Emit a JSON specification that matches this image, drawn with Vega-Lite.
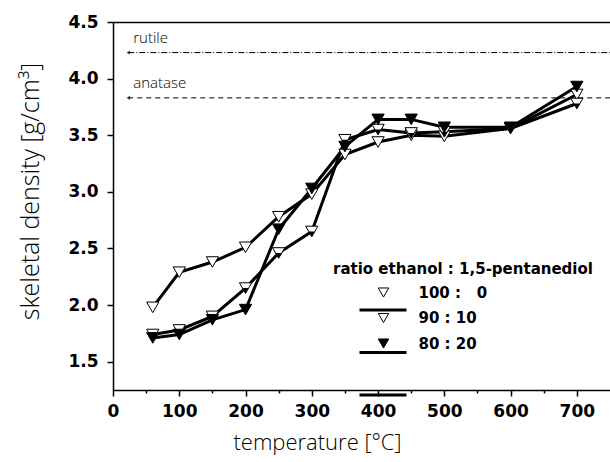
{
  "$schema": "https://vega.github.io/schema/vega-lite/v6.json",
  "autosize": {"type": "none"},
  "padding": {"left": 113, "top": 22, "right": 0, "bottom": 72},
  "width": 497,
  "height": 368,
  "background": "white",
  "config": {
    "view": {"stroke": null},
    "axis": {"grid": false, "domainColor": "black", "domainWidth": 1.5, "tickColor": "black", "tickWidth": 1.5, "labelColor": "black", "titleColor": "black"}
  },
  "datasets": {
    "density": [
      {"series": "100:0", "temperature": 60, "density": 1.98},
      {"series": "100:0", "temperature": 100, "density": 2.29},
      {"series": "100:0", "temperature": 150, "density": 2.38},
      {"series": "100:0", "temperature": 200, "density": 2.51},
      {"series": "100:0", "temperature": 250, "density": 2.78},
      {"series": "100:0", "temperature": 300, "density": 2.98},
      {"series": "100:0", "temperature": 350, "density": 3.33},
      {"series": "100:0", "temperature": 400, "density": 3.44},
      {"series": "100:0", "temperature": 450, "density": 3.50},
      {"series": "100:0", "temperature": 500, "density": 3.49},
      {"series": "100:0", "temperature": 600, "density": 3.56},
      {"series": "100:0", "temperature": 700, "density": 3.86},
      {"series": "90:10", "temperature": 60, "density": 1.74},
      {"series": "90:10", "temperature": 100, "density": 1.78},
      {"series": "90:10", "temperature": 150, "density": 1.90},
      {"series": "90:10", "temperature": 200, "density": 2.15},
      {"series": "90:10", "temperature": 250, "density": 2.46},
      {"series": "90:10", "temperature": 300, "density": 2.65},
      {"series": "90:10", "temperature": 350, "density": 3.46},
      {"series": "90:10", "temperature": 400, "density": 3.55},
      {"series": "90:10", "temperature": 450, "density": 3.52},
      {"series": "90:10", "temperature": 500, "density": 3.53},
      {"series": "90:10", "temperature": 600, "density": 3.56},
      {"series": "90:10", "temperature": 700, "density": 3.78},
      {"series": "80:20", "temperature": 60, "density": 1.71},
      {"series": "80:20", "temperature": 100, "density": 1.74},
      {"series": "80:20", "temperature": 150, "density": 1.87},
      {"series": "80:20", "temperature": 200, "density": 1.96},
      {"series": "80:20", "temperature": 250, "density": 2.67},
      {"series": "80:20", "temperature": 300, "density": 3.03},
      {"series": "80:20", "temperature": 350, "density": 3.40},
      {"series": "80:20", "temperature": 400, "density": 3.64},
      {"series": "80:20", "temperature": 450, "density": 3.64},
      {"series": "80:20", "temperature": 500, "density": 3.57},
      {"series": "80:20", "temperature": 600, "density": 3.57},
      {"series": "80:20", "temperature": 700, "density": 3.93}
    ],
    "phases": [
      {"phase": "rutile", "density": 4.23, "start": 23, "end": 750},
      {"phase": "anatase", "density": 3.83, "start": 23, "end": 750}
    ]
  },
  "resolve": {"axis": {"x": "independent"}},
  "layer": [
    {
      "data": {"name": "density"},
      "mark": {"type": "line", "strokeWidth": 3},
      "encoding": {
        "x": {
          "field": "temperature", "type": "quantitative",
          "scale": {"domain": [0, 750], "nice": false, "zero": false},
          "axis": {
            "orient": "bottom",
            "values": [0, 50, 100, 150, 200, 250, 300, 350, 400, 450, 500, 550, 600, 650, 700],
            "labelExpr": "datum.value % 100 === 0 ? datum.label : ''",
            "labelOverlap": false, "labelFlush": false,
            "tickSize": {"condition": {"test": "datum.value % 100 === 0", "value": 6}, "value": 3},
            "labelFont": "DejaVu Sans", "labelFontWeight": "bold", "labelFontSize": 17, "labelPadding": 7,
            "title": "temperature [°C]", "titleFont": "Open Sans", "titleFontWeight": 300, "titleFontSize": 22, "titleColor": "black",
            "titleX": 204, "titleY": 59, "titleBaseline": "alphabetic", "titleAlign": "center"
          }
        },
        "y": {
          "field": "density", "type": "quantitative",
          "scale": {"domain": [1.25, 4.5], "nice": false, "zero": false},
          "axis": {
            "values": [1.5, 1.75, 2, 2.25, 2.5, 2.75, 3, 3.25, 3.5, 3.75, 4, 4.25, 4.5],
            "labelExpr": "round(datum.value * 100) % 50 === 0 ? format(datum.value, '.1f') : ''",
            "labelOverlap": false, "labelFlush": false,
            "tickSize": {"condition": {"test": "round(datum.value * 100) % 50 === 0", "value": 6}, "value": 3},
            "labelFont": "DejaVu Sans", "labelFontWeight": "bold", "labelFontSize": 17, "labelPadding": 9,
            "title": "skeletal density [g/cm³]", "titleFont": "Open Sans", "titleFontWeight": 300, "titleFontSize": 25, "titleColor": "black",
            "titleX": -83, "titleY": 169, "titleAngle": -90, "titleBaseline": "middle", "titleAlign": "center"
          }
        },
        "color": {
          "field": "series", "type": "nominal", "sort": ["100:0", "90:10", "80:20"],
          "scale": {"range": ["black", "black", "black"]},
          "legend": {
            "orient": "none", "legendX": 220, "legendY": 240,
            "title": "\u00a0", "titleFont": "DejaVu Sans", "titleFontWeight": "bold", "titleFontSize": 15, "titlePadding": 8,
            "symbolType": "stroke", "symbolSize": 2209, "symbolStrokeWidth": 3, "symbolStrokeColor": "black", "symbolOffset": 25,
            "labelFont": "DejaVu Sans", "labelFontWeight": "bold", "labelFontSize": 15, "labelOpacity": 0, "labelOffset": 400,
            "labelExpr": "'0'",
            "rowPadding": 9.5
          }
        }
      }
    },
    {
      "data": {"name": "phases"},
      "mark": {"type": "rule", "color": "black", "strokeWidth": 1},
      "encoding": {
        "x": {"field": "start", "type": "quantitative", "axis": null},
        "x2": {"field": "end"},
        "y": {"field": "density", "type": "quantitative"},
        "strokeDash": {"field": "phase", "type": "nominal", "scale": {"domain": ["rutile", "anatase"], "range": [[6, 2, 1, 2], [5, 4]]}, "legend": null}
      }
    },
    {
      "data": {"name": "phases"},
      "mark": {"type": "point", "shape": "triangle-left", "size": 18, "filled": true, "color": "black"},
      "encoding": {
        "x": {"field": "start", "type": "quantitative", "axis": null},
        "y": {"field": "density", "type": "quantitative"}
      }
    },
    {
      "data": {"name": "phases"},
      "mark": {"type": "text", "align": "left", "baseline": "alphabetic", "dx": 5, "dy": -10, "font": "Open Sans", "fontWeight": 300, "fontSize": 15, "color": "black"},
      "encoding": {
        "x": {"field": "start", "type": "quantitative", "axis": null},
        "y": {"field": "density", "type": "quantitative"},
        "text": {"field": "phase"}
      }
    },
    {
      "data": {"name": "density"},
      "mark": {"type": "point", "shape": "triangle-down", "size": 150, "filled": true, "stroke": "black", "strokeWidth": 1, "opacity": 1},
      "encoding": {
        "x": {"field": "temperature", "type": "quantitative", "axis": null},
        "y": {"field": "density", "type": "quantitative"},
        "fill": {
          "field": "series", "type": "nominal",
          "scale": {"domain": ["100:0", "90:10", "80:20"], "range": ["white", "white", "black"]},
          "legend": {
            "orient": "none", "legendX": 220, "legendY": 240,
            "title": "ratio ethanol : 1,5-pentanediol", "titleLimit": 500,
            "titleFont": "DejaVu Sans", "titleFontWeight": "bold", "titleFontSize": 15, "titlePadding": 8, "titleColor": "black",
            "labelFont": "DejaVu Sans", "labelFontWeight": "bold", "labelFontSize": 15, "labelColor": "black",
            "labelExpr": "datum.label === '100:0' ? '100 : \u20070' : datum.label === '90:10' ? '\u200790 : 10' : '\u200780 : 20'",
            "symbolType": "triangle-down", "symbolSize": 110, "symbolOffset": 43, "labelOffset": 27.5, "rowPadding": 9.5,
            "symbolStrokeColor": "black", "symbolStrokeWidth": 1
          }
        }
      }
    },
    {
      "data": {"name": "density"},
      "transform": [{"filter": "datum.series === '90:10'"}],
      "mark": {"type": "point", "shape": "M-0.5,0L0.5,0L0,0.866Z", "size": 150, "filled": true, "color": "black", "opacity": 1},
      "encoding": {
        "x": {"field": "temperature", "type": "quantitative", "axis": null},
        "y": {"field": "density", "type": "quantitative"}
      }
    },
    {
      "data": {"name": "density"},
      "mark": {"type": "point", "opacity": 0},
      "encoding": {
        "x": {"field": "temperature", "type": "quantitative", "axis": {"orient": "top", "labels": false, "ticks": false, "title": null, "domain": true, "values": []}}
      }
    }
  ]
}
